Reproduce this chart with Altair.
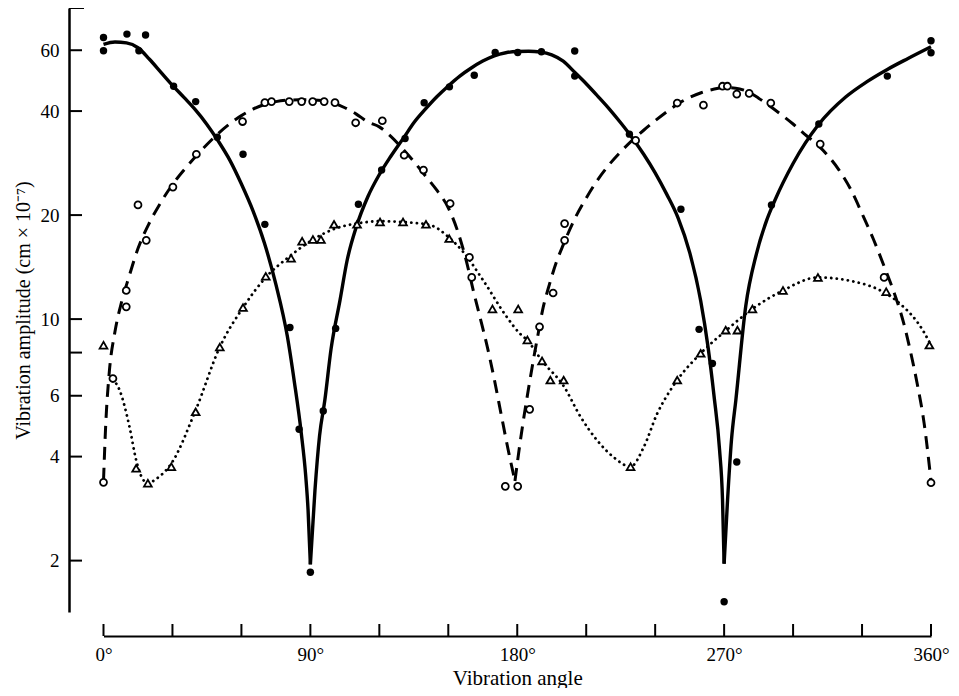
import altair as alt
import pandas as pd

FONT = "Liberation Serif"

# ---- measured points ----
filled_angle = [0, 0, 10.2, 15.4, 18.3, 30.5, 40.1, 49.5, 60.7, 70.2, 81.1, 85.1, 90.0, 95.6, 101.0,
                110.9, 121.0, 131.2, 139.5, 150.5, 161.3, 170.4, 180.2, 190.5, 205.0, 205.0, 228.8,
                251.2, 259.1, 264.9, 270.0, 275.5, 290.6, 311.2, 341.0, 360.0, 360.0]
filled_amp = [65.3, 59.8, 66.8, 59.8, 66.4, 47.2, 42.6, 33.6, 30.0, 18.8, 9.46, 4.8, 1.85, 5.42, 9.4,
              21.5, 27.0, 33.3, 42.3, 47.0, 50.8, 59.1, 59.1, 59.4, 59.7, 50.5, 34.3,
              20.8, 9.34, 7.44, 1.52, 3.86, 21.4, 36.7, 50.5, 63.9, 59.0]

open_angle = [0, 4.1, 9.9, 9.9, 15.0, 18.6, 30.2, 40.4, 60.5, 70.2, 73.1, 80.8, 86.2, 91.0, 96.0,
              100.7, 109.7, 121.3, 130.8, 139.2, 150.8, 159.2, 160.2, 174.8, 180.2, 185.4, 189.7,
              195.6, 200.6, 200.6, 231.5, 249.6, 261.0, 269.3, 271.4, 275.5, 280.9, 290.3, 311.8,
              339.6, 360.0]
open_amp = [3.37, 6.73, 10.85, 12.1, 21.4, 16.9, 24.1, 30.0, 37.3, 42.3, 42.6, 42.6, 42.6, 42.6, 42.6,
            42.3, 37.0, 37.5, 29.8, 27.0, 21.6, 15.1, 13.2, 3.28, 3.28, 5.48, 9.5,
            11.9, 16.9, 18.9, 32.9, 42.2, 41.6, 47.2, 47.2, 44.8, 45.0, 42.2, 32.1,
            13.2, 3.36]

tri_angle = [0, 14.2, 19.3, 29.5, 40.1, 50.6, 60.7, 70.6, 81.6, 86.4, 91.1, 94.6, 100.3, 110.3,
             120.3, 130.3, 140.3, 150.4, 169.2, 180.4, 184.4, 190.8, 194.4, 200.2, 229.3, 249.6,
             259.8, 270.7, 275.8, 282.3, 295.6, 310.8, 340.5, 359.3]
tri_amp = [8.4, 3.70, 3.35, 3.74, 5.39, 8.3, 10.8, 13.3, 15.0, 16.8, 17.0, 17.0, 18.8, 18.8,
           19.1, 19.1, 18.8, 17.1, 10.7, 10.7, 8.7, 7.57, 6.66, 6.66, 3.74, 6.66,
           7.96, 9.29, 9.29, 10.7, 12.1, 13.2, 12.0, 8.41]

# ---- fitted curves, split at the cusps ----
solid_a_angle = [0, 5, 10, 15, 20, 25, 30, 35, 40, 45, 50, 55, 60, 65, 70, 75, 80, 83, 86, 88, 89, 90]
solid_a_amp = [62.4, 63.4, 63.0, 61.0, 56.5, 51.8, 47.5, 43.8, 40.3, 36.6, 32.7, 28.8, 24.6, 20.6,
               16.6, 12.6, 8.9, 6.6, 4.7, 3.5, 2.8, 1.95]
solid_b_angle = [90, 92, 94, 96.3, 99, 102.9, 106, 110, 115, 120, 125, 131, 135, 140, 145, 150, 155,
                 160, 165, 170, 175, 180, 185, 190, 195, 200, 205, 210, 215, 220, 225, 230, 235, 240,
                 245, 250, 255, 259.8, 263, 265.6, 268, 269.3, 270]
solid_b_amp = [1.95, 3.2, 4.6, 5.83, 8.2, 11.35, 14.8, 18.5, 22.6, 26.2, 29.6, 33.8, 37.0, 40.5, 44.0,
               47.3, 50.5, 53.3, 55.8, 57.8, 59.0, 59.5, 59.6, 59.3, 58.2, 55.8, 51.8, 48.0, 44.2,
               40.6, 37.0, 33.5, 30.0, 26.5, 23.0, 19.6, 15.6, 11.3, 8.3, 6.0, 4.2, 3.0, 1.96]
solid_c_angle = [270, 271.5, 273.2, 275.1, 279.4, 284, 288.5, 292, 300, 311, 323, 332, 341, 350, 360]
solid_c_amp = [1.96, 3.0, 4.47, 5.83, 10.9, 15.4, 19.3, 22.0, 28.2, 36.5, 44.0, 48.6, 52.8, 56.8, 61.4]

dashed_a_angle = [0, 1, 2.5, 5, 8, 11, 15, 20, 25, 30, 35, 40, 45, 50, 55, 60, 65, 70, 75, 80, 85,
                  90, 95, 100, 105, 110, 115, 120, 125, 130, 135, 140, 145, 150, 155, 158, 161, 164,
                  167, 170, 173, 176, 179]
dashed_a_amp = [3.4, 5.0, 7.0, 9.2, 11.3, 13.2, 16.0, 19.0, 21.8, 24.5, 27.0, 29.5, 32.0, 34.5,
                36.8, 38.8, 40.5, 41.8, 42.6, 43.0, 43.1, 43.1, 42.9, 42.2, 40.9, 39.2, 37.2,
                36.0, 33.8, 31.2, 28.6, 26.0, 23.6, 21.0, 17.2, 14.6, 12.0, 10.0, 8.3, 6.7, 5.3,
                4.2, 3.4]
dashed_b_angle = [179, 181, 183, 185, 187, 189, 191, 194, 197, 200, 205, 210, 215, 220, 225, 230,
                  235, 240, 245, 250, 255, 260, 265, 270, 275, 280, 285, 290, 295, 300, 305, 310,
                  315, 320, 325, 330, 335, 340, 344, 348, 351, 354, 357, 360]
dashed_b_amp = [3.4, 4.28, 5.26, 6.35, 7.6, 9.0, 10.6, 12.6, 14.6, 16.4, 19.5, 22.4, 25.3, 28.0,
                30.5, 32.9, 35.2, 37.5, 39.8, 42.0, 43.8, 45.2, 46.2, 46.8, 46.6, 45.6, 43.6,
                41.3, 39.0, 36.7, 34.3, 32.2, 29.8, 27.0, 23.8, 20.2, 17.0, 14.0, 11.9, 9.8, 8.1,
                6.5, 5.0, 3.4]

dotted_angle = [4.1, 7, 11.3, 14.2, 17, 19.3, 23, 29.5, 40.1, 50.6, 60.7, 70.6, 81, 90, 100, 110,
                120, 130, 142.2, 150.4, 156.3, 165, 175.2, 181, 184.3, 190.8, 200.2, 207.5, 214.6,
                221.8, 229.3, 235.1, 240.9, 246.7, 249.6, 259.8, 271, 282.3, 295.6, 310.8, 325,
                340, 346.4, 356.4, 360]
dotted_amp = [6.7, 6.23, 4.88, 3.91, 3.45, 3.35, 3.45, 3.82, 5.45, 8.3, 10.8, 13.2, 15.2, 16.8, 18.2,
              18.9, 19.2, 19.1, 18.7, 17.2, 15.7, 13.0, 10.2, 9.1, 8.69, 7.57, 6.4, 5.22, 4.47,
              3.99, 3.74, 4.27, 5.33, 6.24, 6.66, 7.96, 9.29, 10.7, 12.1, 13.2, 12.9,
              11.9, 11.1, 9.29, 8.4]

# ---- axis ticks / labels ----
y_tick_values = [2, 4, 6, 8, 10, 20, 40, 60]
y_label_values = [2, 4, 6, 10, 20, 40, 60]
x_tick_values = [0, 30, 60, 90, 120, 150, 180, 210, 240, 270, 300, 330, 360]
x_label_values = [0, 90, 180, 270, 360]

W, H = 827.5, 604
Y_OFF, X_OFF = 34.5, 24

xs = alt.Scale(domain=[0, 360], nice=False, zero=False)
ys = alt.Scale(type="log", domain=[1.42, 79.5], nice=False)

x_axis = alt.Axis(values=x_label_values, ticks=False, offset=X_OFF, domainColor="black",
                  domainWidth=2, labelExpr="datum.value + '°'", labelFont=FONT, labelFontSize=19,
                  labelColor="black", labelPadding=9, labelFlush=False, labelOverlap=False,
                  grid=False, title="Vibration angle", titleFont=FONT, titleFontSize=21,
                  titleFontWeight="normal", titleColor="black", titlePadding=3)
y_axis = alt.Axis(values=y_label_values, ticks=False, offset=Y_OFF, domainColor="black",
                  domainWidth=2.5, format="~g", labelFont=FONT, labelFontSize=19,
                  labelColor="black", labelPadding=10, labelOverlap=False, grid=False,
                  title="Vibration amplitude (cm × 10⁻⁷)", titleFont=FONT, titleFontSize=20,
                  titleFontWeight="normal", titleColor="black", titlePadding=7)

X = alt.X("angle:Q", scale=xs, axis=x_axis)
Y = alt.Y("amp:Q", scale=ys, axis=y_axis)


def curve(branches):
    rows = []
    for i, (a, v) in enumerate(branches):
        rows += [{"angle": ai, "amp": vi, "branch": i} for ai, vi in zip(a, v)]
    return pd.DataFrame(rows)


solid_df = curve([(solid_a_angle, solid_a_amp), (solid_b_angle, solid_b_amp),
                  (solid_c_angle, solid_c_amp)])
dashed_df = curve([(dashed_a_angle, dashed_a_amp), (dashed_b_angle, dashed_b_amp)])
dotted_df = curve([(dotted_angle, dotted_amp)])

solid = alt.Chart(solid_df).mark_line(color="black", strokeWidth=3.4, interpolate="monotone").encode(
    x=X, y=Y, detail="branch:N")
dashed = alt.Chart(dashed_df).mark_line(color="black", strokeWidth=3, strokeDash=[13, 8],
                                        interpolate="monotone").encode(x=X, y=Y, detail="branch:N")
dotted = alt.Chart(dotted_df).mark_line(color="black", strokeWidth=2.8, strokeDash=[0.1, 5.5],
                                        strokeCap="round", interpolate="monotone").encode(
    x=X, y=Y, detail="branch:N")

filled = alt.Chart(pd.DataFrame({"angle": filled_angle, "amp": filled_amp})).mark_point(
    shape="circle", filled=True, color="black", size=55, opacity=1).encode(x=X, y=Y)
opened = alt.Chart(pd.DataFrame({"angle": open_angle, "amp": open_amp})).mark_point(
    shape="circle", filled=True, fill="white", stroke="black", strokeWidth=1.8, size=48,
    opacity=1).encode(x=X, y=Y)
tris = alt.Chart(pd.DataFrame({"angle": tri_angle, "amp": tri_amp})).mark_point(
    shape="triangle-up", filled=True, fill="white", stroke="black", strokeWidth=1.8, size=60,
    opacity=1).encode(x=X, y=Y)

y_ticks = alt.Chart(pd.DataFrame({"amp": y_tick_values})).mark_rule(
    color="black", strokeWidth=2).encode(y=Y, x=alt.value(-Y_OFF), x2=alt.value(-Y_OFF + 13))
y_top = alt.Chart(pd.DataFrame({"amp": [y_tick_values[-1]]})).mark_rule(
    color="black", strokeWidth=2).encode(y=alt.value(0), x=alt.value(-Y_OFF), x2=alt.value(-Y_OFF + 15))
x_ticks = alt.Chart(pd.DataFrame({"angle": x_tick_values})).mark_rule(
    color="black", strokeWidth=2).encode(x=X, y=alt.value(H + X_OFF), y2=alt.value(H + X_OFF - 12))

chart = alt.layer(x_ticks, y_ticks, y_top, dotted, dashed, solid, tris, opened, filled).properties(
    width=W, height=H,
    padding={"left": 95.5, "top": 0, "right": 20, "bottom": 76},
    autosize=alt.AutoSizeParams(type="none"),
    background="white",
).configure_view(stroke=None)

chart.save("out.html", embed_options={"renderer": "svg", "actions": False})
